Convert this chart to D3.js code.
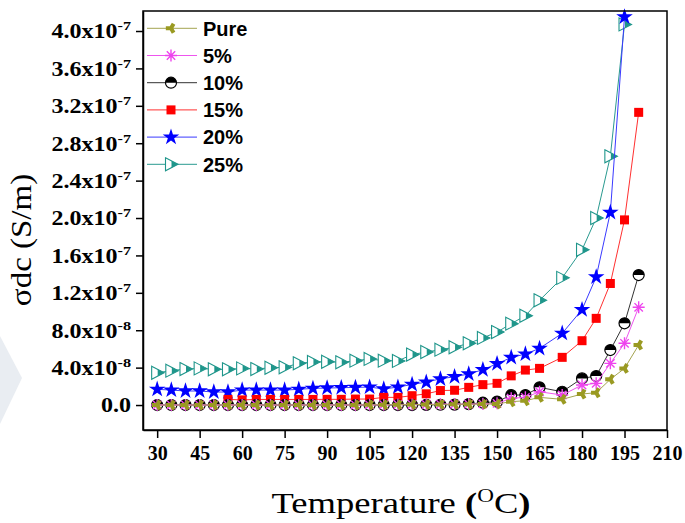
<!DOCTYPE html>
<html>
<head>
<meta charset="utf-8">
<script src="https://cdn.jsdelivr.net/npm/d3@7"></script>
<style>
  body { margin: 0; background: #fff; }
  svg { display: block; }
</style>
</head>
<body>
<div id="chart"></div>
<script>
// conductivity values in units of 1e-8 S/m
const UNIT = 1e-8;
const temps = [30,35,40,45,50,55,60,65,70,75,80,85,90,95,100,105,110,115,120,125,130,135,140,145,150,155,160,165,173,180,185,190,195,200];
const temps15 = temps.filter(t => t >= 55);
const temps2025 = temps.filter(t => t <= 195);

const pure = [0,0,0,0,0,0,0,0,0,0,0,0,0,0,0,0.02,0.03,0.04,0.05,0.06,0.07,0.08,0.09,0.1,0.12,0.36,0.46,0.82,0.61,1.18,1.32,2.75,3.92,6.42];
const pct5 = [0,0,0,0,0,0,0,0,0,0,0,0,0,0,0,0.02,0.03,0.05,0.06,0.07,0.08,0.09,0.1,0.12,0.18,0.72,0.82,1.42,1.07,2.14,2.32,4.46,6.6,10.45];
const pct10 = [0,0,0,0,0,0,0,0,0,0,0,0,0,0,0,0,0,0,0,0.02,0.03,0.05,0.1,0.25,0.36,1.07,1.07,1.89,1.42,2.85,3.1,5.88,8.74,13.9];
const pct15 = [0.6,0.55,0.6,0.6,0.6,0.6,0.6,0.61,0.61,0.64,0.64,0.82,0.82,1.0,1.2,1.55,1.58,1.89,2.18,2.32,3.12,3.74,3.92,5.1,6.88,9.27,13.0,19.8,31.3];
const pct20 = [1.68,1.6,1.5,1.5,1.39,1.39,1.6,1.6,1.6,1.6,1.68,1.78,1.82,1.85,1.89,1.92,1.72,1.92,2.2,2.45,2.8,3.03,3.32,3.78,4.42,5.08,5.45,6.06,7.67,10.2,13.7,20.6,41.5];
const pct25 = [3.45,3.67,3.85,3.92,3.82,3.82,3.92,3.85,3.99,4.03,4.46,4.6,4.63,4.57,4.74,4.93,4.74,4.72,5.4,5.67,5.92,6.18,6.6,7.18,7.8,8.7,9.55,11.2,13.6,16.6,20.0,26.6,40.7];

const seriesNames = ["Pure", "5%", "10%", "15%", "20%", "25%"];
const xTicks = [30,45,60,75,90,105,120,135,150,165,180,195,210];
const yTickVals = [0,4,8,12,16,20,24,28,32,36,40].map(v => v * UNIT);
const yTickMant = ["0.0","4.0","8.0","1.2","1.6","2.0","2.4","2.8","3.2","3.6","4.0"];
const yTickExp = ["","-8","-8","-7","-7","-7","-7","-7","-7","-7","-7"];

const width = 685, height = 523;
const serif = "'Liberation Serif', 'Times New Roman', serif";

const series = [
  {name: seriesNames[0], t: temps, v: pure, color: "#9a9a22", line: "#a4a450", marker: "wye"},
  {name: seriesNames[1], t: temps, v: pct5, color: "#ee44ee", line: "#ee55ee", marker: "asterisk"},
  {name: seriesNames[2], t: temps, v: pct10, color: "#000000", line: "#333333", marker: "halfcircle"},
  {name: seriesNames[3], t: temps15, v: pct15, color: "#ff0000", line: "#ff3030", marker: "square"},
  {name: seriesNames[4], t: temps2025, v: pct20, color: "#0000ff", line: "#3a3aff", marker: "star"},
  {name: seriesNames[5], t: temps2025, v: pct25, color: "#1f968b", line: "#2a9a90", marker: "triangle"}
];

const x = d3.scaleLinear().domain([25, 210]).range([143, 667]);
const y = d3.scaleLinear().domain([-2.67e-8, 4.214e-7]).range([430, 11]);

const svg = d3.select("#chart")
  .append("svg")
  .attr("width", width)
  .attr("height", height);

svg.append("rect").attr("width", width).attr("height", height).attr("fill", "#fff");

// faint watermark shape at the left edge
svg.append("path")
  .attr("d", "M0,336 L22,378 L0,424 Z")
  .attr("fill", "#e9edf2");

function drawMarker(g, type, c) {
  if (type === "wye") {
    g.append("path")
      .attr("d", d3.symbol(d3.symbolWye, 55)())
      .attr("transform", "rotate(90)")
      .attr("fill", c);
  } else if (type === "asterisk") {
    const r = 6;
    g.append("path")
      .attr("d", `M${-r},0L${r},0M0,${-r}L0,${r}M${-r*0.7},${-r*0.7}L${r*0.7},${r*0.7}M${-r*0.7},${r*0.7}L${r*0.7},${-r*0.7}`)
      .attr("stroke", c)
      .attr("stroke-width", 1.4);
  } else if (type === "halfcircle") {
    const r = 5.5;
    g.append("circle").attr("r", r).attr("fill", "#fff").attr("stroke", c).attr("stroke-width", 1.2);
    g.append("path")
      .attr("d", `M${-r},0A${r},${r} 0 0 1 ${r},0Z`)
      .attr("fill", c);
  } else if (type === "square") {
    g.append("rect").attr("x", -4.5).attr("y", -4.5).attr("width", 9).attr("height", 9).attr("fill", c);
  } else if (type === "star") {
    g.append("path").attr("d", d3.symbol(d3.symbolStar, 85)()).attr("fill", c);
  } else if (type === "triangle") {
    g.append("path")
      .attr("d", "M-5.5,-6.5L7,0L-5.5,6.5Z")
      .attr("fill", "#fff")
      .attr("stroke", c)
      .attr("stroke-width", 1.1);
    g.append("path")
      .attr("d", "M0.5,-3.4L7,0L0.5,3.4Z")
      .attr("fill", c);
  }
}

const line = d3.line()
  .x(d => x(d[0]))
  .y(d => y(d[1] * UNIT));

// draw from 25% back to Pure so that Pure sits on top
for (const s of series.slice().reverse()) {
  const pts = s.t.map((t, i) => [t, s.v[i]]);
  svg.append("path")
    .datum(pts)
    .attr("fill", "none")
    .attr("stroke", s.line)
    .attr("stroke-width", 1)
    .attr("d", line);
  svg.append("g")
    .selectAll("g")
    .data(pts)
    .join("g")
    .attr("transform", d => `translate(${x(d[0])},${y(d[1] * UNIT)})`)
    .each(function() { drawMarker(d3.select(this), s.marker, s.color); });
}

// frame
svg.append("rect")
  .attr("x", 143).attr("y", 11)
  .attr("width", 524).attr("height", 419)
  .attr("fill", "none")
  .attr("stroke", "#000")
  .attr("stroke-width", 1.5);

// x axis
const xAxis = svg.append("g")
  .attr("transform", "translate(0,430)")
  .call(d3.axisBottom(x).tickValues(xTicks).tickSize(8).tickSizeOuter(0).tickPadding(8));
xAxis.select(".domain").attr("stroke-width", 1.5);
xAxis.selectAll(".tick line").attr("stroke-width", 1.5);
xAxis.selectAll("text")
  .attr("font-family", serif)
  .attr("font-weight", "bold")
  .attr("font-size", 20)
  .attr("fill", "#000");

// y axis
const yAxis = svg.append("g")
  .attr("transform", "translate(143,0)")
  .call(d3.axisLeft(y).tickValues(yTickVals).tickSize(7).tickSizeOuter(0).tickFormat(() => ""));
yAxis.select(".domain").attr("stroke-width", 1.5);
yAxis.selectAll(".tick line").attr("stroke-width", 1.5);
yAxis.selectAll(".tick text").remove();
yAxis.selectAll(".tick").each(function(d, i) {
  const t = d3.select(this).append("text")
    .attr("transform", "translate(-12,0) scale(1.2,1)")
    .attr("dy", "0.34em")
    .attr("text-anchor", "end")
    .attr("font-family", serif)
    .attr("font-weight", "bold")
    .attr("font-size", 20)
    .attr("fill", "#000");
  if (yTickExp[i] === "") {
    t.text(yTickMant[i]);
  } else {
    t.append("tspan").text(yTickMant[i] + "x10");
    t.append("tspan").attr("dy", -8).attr("font-size", 13.5).text(yTickExp[i]);
  }
});

// axis titles
svg.append("text")
  .attr("transform", "translate(31,240) rotate(-90) scale(1.1,1)")
  .attr("text-anchor", "middle")
  .attr("font-family", serif)
  .attr("font-size", 30)
  .attr("fill", "#000")
  .text("\u03C3dc (S/m)");

const xTitle = svg.append("text")
  .attr("transform", "translate(401,513) scale(1.22,1)")
  .attr("text-anchor", "middle")
  .attr("font-family", serif)
  .attr("font-size", 30)
  .attr("fill", "#000");
xTitle.append("tspan").text("Temperature ");
xTitle.append("tspan").attr("font-weight", "bold").text("(");
xTitle.append("tspan").attr("font-size", 19).attr("dy", -11).text("O");
xTitle.append("tspan").attr("dy", 11).text("C");
xTitle.append("tspan").attr("font-weight", "bold").text(")");

// legend
const legend = svg.append("g");
series.forEach((s, i) => {
  const ly = 28.3 + i * 27.2;
  const g = legend.append("g").attr("transform", `translate(0,${ly})`);
  g.append("line")
    .attr("x1", 147).attr("x2", 197)
    .attr("stroke", s.line)
    .attr("stroke-width", 1);
  const m = g.append("g").attr("transform", "translate(171,0)");
  drawMarker(m, s.marker, s.color);
  g.append("text")
    .attr("x", 203)
    .attr("dy", "0.36em")
    .attr("font-family", "'Liberation Sans', Arial, sans-serif")
    .attr("font-weight", "bold")
    .attr("font-size", 20)
    .attr("fill", "#000")
    .text(s.name);
});
</script>
</body>
</html>
